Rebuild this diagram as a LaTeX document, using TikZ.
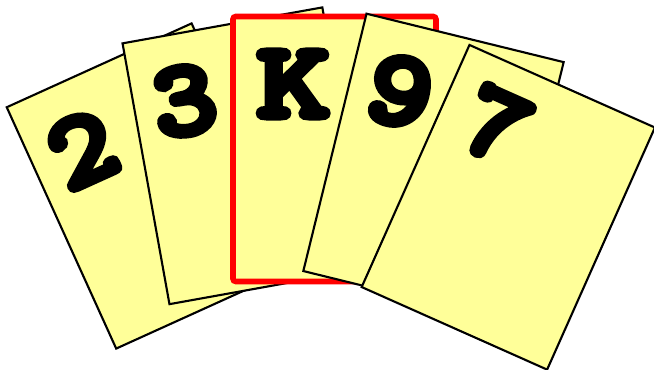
\documentclass[tikz,border=0pt]{standalone}
\usepackage{fontspec}
\usepackage{xcolor}
\usepackage{tikz}
\usetikzlibrary{positioning}

\newfontfamily\rankfont{lmmonolt10-bold.otf}[FakeBold=6]
\definecolor{cardyellow}{HTML}{FFFF99}

\begin{document}
\begin{tikzpicture}[
    card/.style={draw=black, fill=cardyellow, line width=0.6pt},
    chosen/.style={draw=red, fill=cardyellow, line width=1.6pt, rounded corners=0.8pt},
    rank/.style={font=\fontsize{31}{31}\selectfont\rankfont, inner sep=0pt, xscale=1.12, transform shape}
]
    \useasboundingbox (0,0) rectangle (6.54,3.70);


    \begin{scope}[shift={(1.539,1.840)}, rotate=24.4]
        \draw[card] (-1.015,-1.325) rectangle (1.015,1.325);
        \node[rank] (two) at (-0.50,0.63) {2};
    \end{scope}

    \begin{scope}[shift={(2.459,2.142)}, rotate=10.2]
        \draw[card] (-1.015,-1.325) rectangle (1.015,1.325);
        \node[rank] (three) at (-0.51,0.65) {3};
    \end{scope}

    \begin{scope}[shift={(3.345,2.210)}]
        \draw[chosen] (-1.015,-1.325) rectangle (1.015,1.325);
        \node[rank, xscale=1.15] (king) at (-0.41,0.65) {K};
    \end{scope}

    \begin{scope}[shift={(4.335,2.034)}, rotate=-13.8]
        \draw[card] (-1.015,-1.325) rectangle (1.015,1.325);
        \node[rank] (nine) at (-0.50,0.65) {9};
    \end{scope}

    \begin{scope}[shift={(5.083,1.627)}, rotate=-24]
        \draw[card] (-1.015,-1.325) rectangle (1.015,1.325);
        \node[rank] (seven) at (-0.44,0.70) {7};
    \end{scope}
\end{tikzpicture}
\end{document}
